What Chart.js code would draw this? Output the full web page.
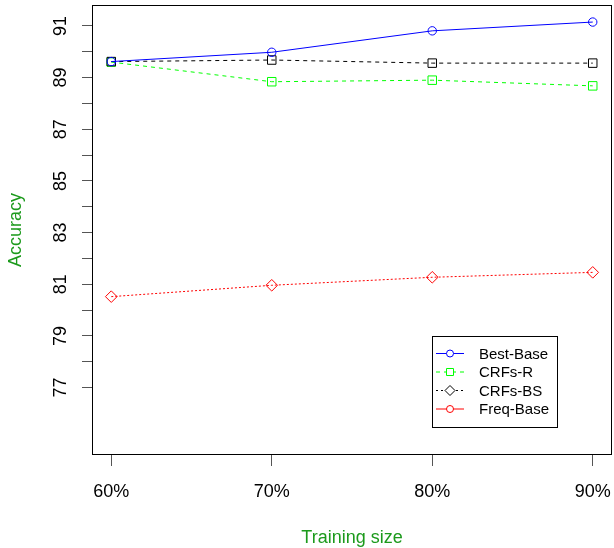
<!DOCTYPE html>
<html><head><meta charset="utf-8">
<script src="https://cdn.jsdelivr.net/npm/chart.js@4/dist/chart.umd.min.js"></script>
<style>html,body{margin:0;padding:0;background:#fff}#wrap{width:614px;height:548px}</style>
</head><body><div id="wrap"><canvas id="c" width="614" height="548"></canvas></div>
<script>
// ---- data ----
const categories = ['60%', '70%', '80%', '90%'];
const bestBase = [89.62, 89.98, 90.81, 91.15];
const crfsR = [89.60, 88.84, 88.90, 88.68];
const crfsBS = [89.62, 89.68, 89.56, 89.56];
const freqBase = [80.52, 80.96, 81.27, 81.46];
const yTickValues = [77, 78, 79, 80, 81, 82, 83, 84, 85, 86, 87, 88, 89, 90, 91];
const yLabelValues = [77, 79, 81, 83, 85, 87, 89, 91];
const seriesNames = ['Best-Base', 'CRFs-R', 'CRFs-BS', 'Freq-Base'];
const xTitle = 'Training size';
const yTitle = 'Accuracy';

// ---- styles ----
const FONT = '"Liberation Sans", Arial, Helvetica, sans-serif';
const TITLE_GREEN = '#1c9a1c';
const legendStyles = [
  { color: '#0000ff', dash: [], marker: 'circle' },
  { color: '#00ff00', dash: [4, 4], marker: 'square' },
  { color: '#000000', dash: [2, 3], marker: 'diamond' },
  { color: '#ff0000', dash: [], marker: 'circle' }
];

function pts(arr) { return arr.map((v, i) => ({ x: i, y: v })); }

function drawMarker(ctx, type, x, y, color) {
  ctx.save();
  ctx.strokeStyle = color; ctx.lineWidth = 1; ctx.setLineDash([]);
  ctx.beginPath();
  if (type === 'circle') ctx.arc(x, y, 3.5, 0, Math.PI * 2);
  else if (type === 'square') ctx.rect(x - 3.5, y - 3.5, 7, 7);
  else { ctx.moveTo(x, y - 5); ctx.lineTo(x + 5, y); ctx.lineTo(x, y + 5); ctx.lineTo(x - 5, y); ctx.closePath(); }
  ctx.fillStyle = '#fff'; ctx.fill();
  ctx.stroke();
  ctx.restore();
}

const decor = {
  id: 'decor',
  afterDraw(chart) {
    const ctx = chart.ctx, a = chart.chartArea, ys = chart.scales.y, xs = chart.scales.x;
    ctx.save();
    // box
    ctx.strokeStyle = '#000'; ctx.lineWidth = 1;
    ctx.strokeRect(Math.round(a.left) + 0.5, Math.round(a.top) + 0.5, Math.round(a.right - a.left) - 1, Math.round(a.bottom - a.top) - 1);
    ctx.fillStyle = '#000';
    ctx.font = '18px ' + FONT;
    ctx.textAlign = 'center'; ctx.textBaseline = 'middle';
    // x labels
    categories.forEach((c, i) => {
      ctx.fillText(c, xs.getPixelForValue(i), 492);
    });
    // rotated y labels
    yLabelValues.forEach(v => {
      const y = ys.getPixelForValue(v);
      ctx.save(); ctx.translate(61, y); ctx.rotate(-Math.PI / 2);
      ctx.fillText(String(v), 0, 0); ctx.restore();
    });
    // titles
    ctx.fillStyle = TITLE_GREEN;
    ctx.save(); ctx.translate(16, (a.top + a.bottom) / 2); ctx.rotate(-Math.PI / 2);
    ctx.fillText(yTitle, 0, 0); ctx.restore();
    ctx.fillText(xTitle, (a.left + a.right) / 2, 538);
    // legend
    const lx = 432.5, ly = 336.5, lw = 125, lh = 91;
    ctx.fillStyle = '#fff'; ctx.fillRect(lx, ly, lw, lh);
    ctx.strokeStyle = '#000'; ctx.lineWidth = 1; ctx.setLineDash([]);
    ctx.strokeRect(lx, ly, lw, lh);
    const rows = [353.5, 372, 390.5, 409];
    ctx.font = '15px ' + FONT; ctx.textAlign = 'left'; ctx.textBaseline = 'middle';
    seriesNames.forEach((name, i) => {
      const s = legendStyles[i], y = rows[i];
      ctx.strokeStyle = s.color; ctx.setLineDash(s.dash);
      ctx.beginPath(); ctx.moveTo(436, y); ctx.lineTo(464, y); ctx.stroke();
      ctx.setLineDash([]);
      drawMarker(ctx, s.marker, 450, y, s.color);
      ctx.fillStyle = '#000';
      ctx.fillText(name, 479, y + 1);
    });
    ctx.restore();
  }
};

new Chart(document.getElementById('c'), {
  type: 'line',
  data: {
    datasets: [
      { label: seriesNames[0], data: pts(bestBase), borderColor: '#0000ff', borderWidth: 1,
        pointStyle: 'circle', pointRadius: 4.2, pointBorderColor: '#0000ff', pointBackgroundColor: 'rgba(0,0,0,0)', pointBorderWidth: 1 },
      { label: seriesNames[2], data: pts(crfsBS), borderColor: '#000000', borderWidth: 1, borderDash: [4, 4],
        pointStyle: 'rect', pointRadius: 6, pointBorderColor: '#000000', pointBackgroundColor: 'rgba(0,0,0,0)', pointBorderWidth: 1 },
      { label: seriesNames[1], data: pts(crfsR), borderColor: '#00ff00', borderWidth: 1, borderDash: [4, 4],
        pointStyle: 'rect', pointRadius: 6, pointBorderColor: '#00ff00', pointBackgroundColor: 'rgba(0,0,0,0)', pointBorderWidth: 1 },
      { label: seriesNames[3], data: pts(freqBase), borderColor: '#ff0000', borderWidth: 1, borderDash: [2, 2],
        pointStyle: 'rectRot', pointRadius: 5.8, pointBorderColor: '#ff0000', pointBackgroundColor: 'rgba(0,0,0,0)', pointBorderWidth: 1 }
    ]
  },
  options: {
    responsive: false, animation: false, devicePixelRatio: 1,
    layout: { autoPadding: false, padding: { top: 5, right: 2, left: 0, bottom: 0 } },
    plugins: { legend: { display: false }, tooltip: { enabled: false }, title: { display: false } },
    elements: { line: { tension: 0, fill: false } },
    scales: {
      x: {
        type: 'linear', min: -0.12, max: 3.12,
        afterBuildTicks: s => { s.ticks = categories.map((c, i) => ({ value: i })); },
        afterFit: s => { s.height = 93; s.paddingLeft = 0; s.paddingRight = 0; },
        ticks: { display: false },
        grid: { drawOnChartArea: false, drawTicks: true, tickLength: 11, color: '#555', lineWidth: 1 },
        border: { display: false }
      },
      y: {
        type: 'linear', min: 74.39, max: 91.81,
        afterBuildTicks: s => { s.ticks = yTickValues.map(v => ({ value: v })); },
        afterFit: s => { s.width = 92; s.paddingTop = 0; s.paddingBottom = 0; },
        ticks: { display: false },
        grid: { drawOnChartArea: false, drawTicks: true, tickLength: 10, color: '#555', lineWidth: 1 },
        border: { display: false }
      }
    }
  },
  plugins: [decor]
});
</script>
</body></html>
